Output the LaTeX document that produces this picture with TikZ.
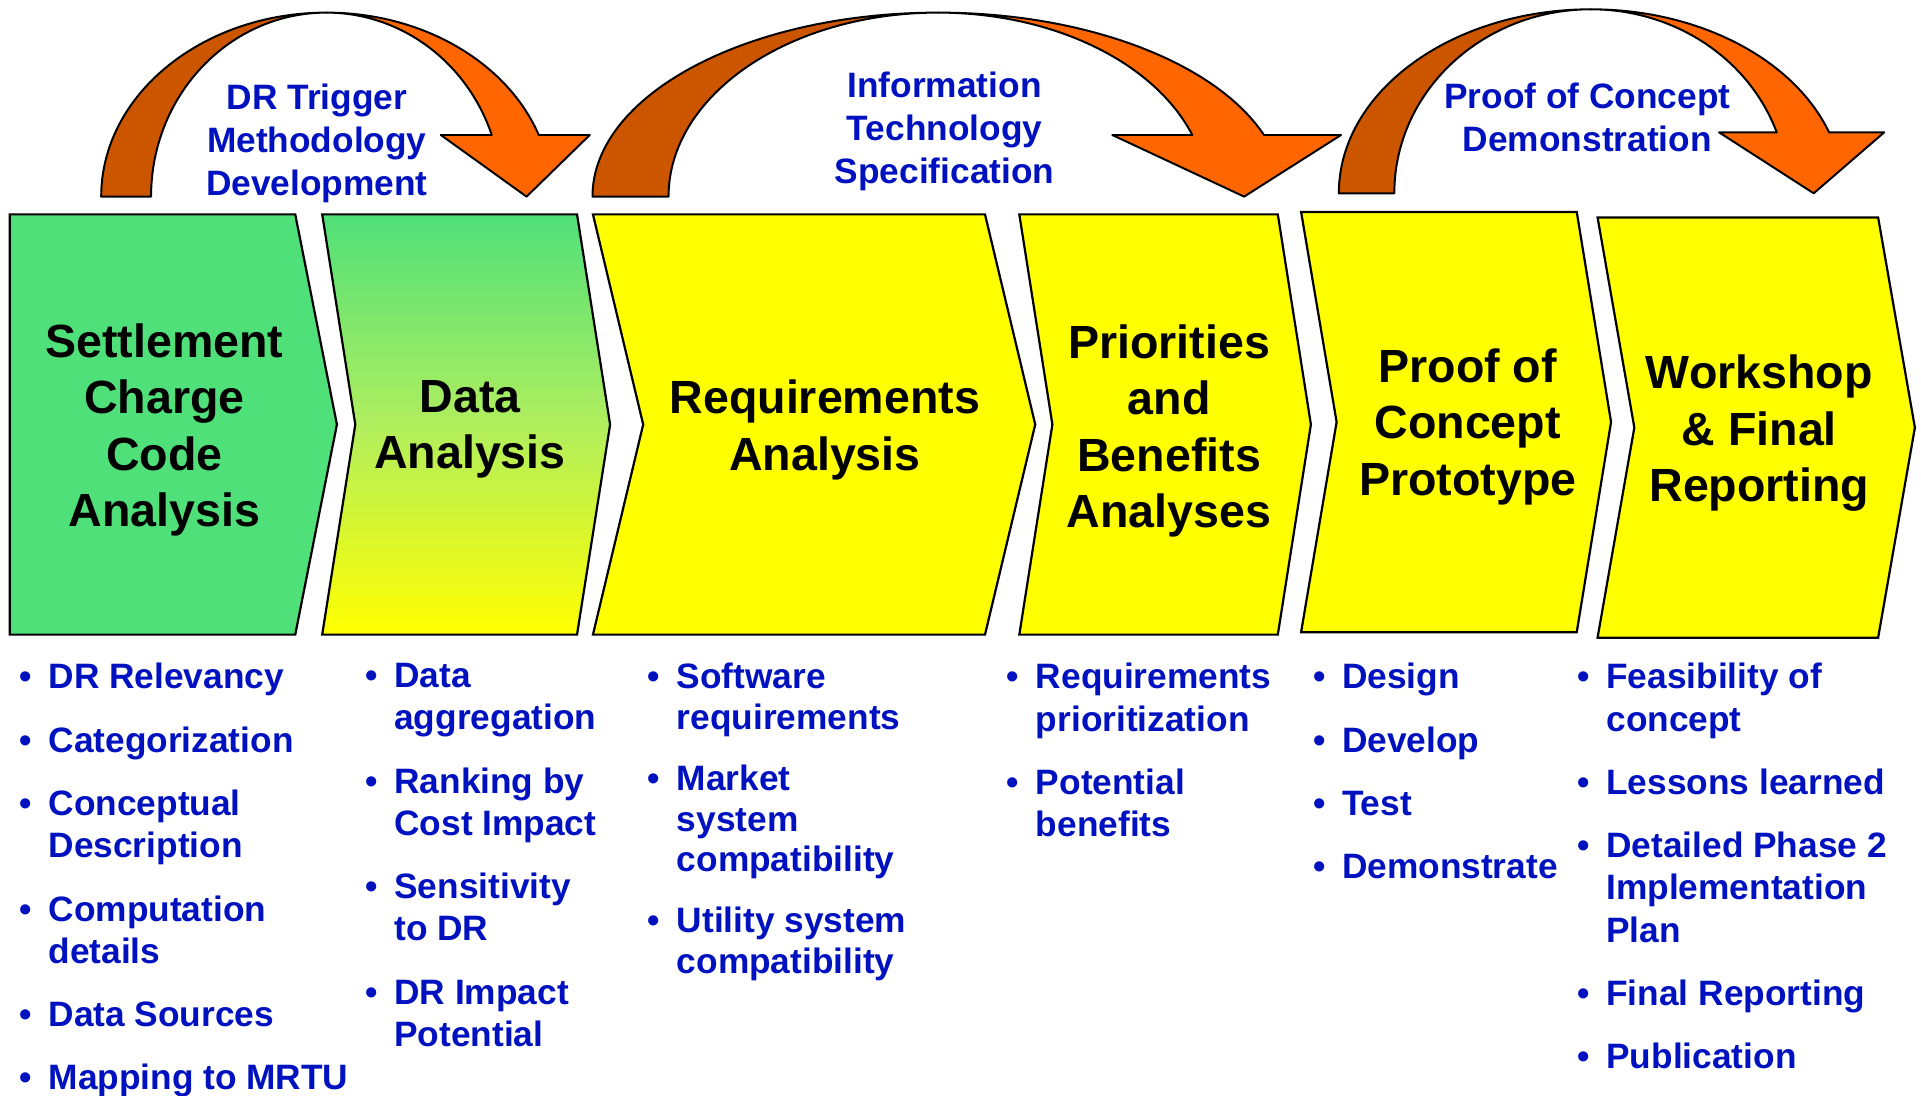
\documentclass[tikz,border=0pt]{standalone}
\usepackage{fontspec}
\setmainfont{Liberation Sans}
\definecolor{rgreen}{RGB}{80,224,122}
\definecolor{ryellow}{RGB}{255,255,0}
\definecolor{rblue}{RGB}{0,18,192}
\definecolor{odark}{RGB}{204,85,0}
\definecolor{olight}{RGB}{255,102,0}
\newcommand{\mybul}{\llap{\textbullet\hspace{6.8pt}}}
\begin{document}
\begin{tikzpicture}[x=0.5pt,y=0.5pt,
  stage/.style={draw=black, line width=0.9pt, line join=miter},
  bendarrow/.style={draw=black, line width=0.8pt, line join=round},
  head/.style={anchor=north, align=center, inner sep=0pt, font=\fontsize{19pt}{23.1pt}\selectfont\bfseries},
  arrlabel/.style={anchor=north, align=center, inner sep=0pt, text=rblue, font=\fontsize{14.4pt}{17.4pt}\selectfont\bfseries},
  blist/.style={anchor=north west, align=left, inner sep=0pt, text=rblue, font=\fontsize{14.4pt}{17.2pt}\selectfont\bfseries},
  blistb/.style={blist, font=\fontsize{14.4pt}{16.5pt}\selectfont\bfseries}
]
\useasboundingbox (0,0) rectangle (1568,894);
\clip (0,0) rectangle (1568,894);
\fill[white] (0,0) rectangle (1568,894);

% ---------- chevrons ----------
\path[stage, fill=rgreen] (8,719) -- (241,719) -- (275,547.5) -- (241,376) -- (8,376) -- cycle;
\path[stage, top color=rgreen, bottom color=ryellow, middle color={rgb,255:red,176;green,238;blue,94}] (263,719) -- (471,719) -- (498,547.5) -- (471,376) -- (263,376) -- (290,547.5) -- cycle;
\path[stage, fill=ryellow] (484,719) -- (804,719) -- (845,547.5) -- (804,376) -- (484,376) -- (525,547.5) -- cycle;
\path[stage, fill=ryellow] (832,719) -- (1043,719) -- (1070,547.5) -- (1043,376) -- (832,376) -- (859,547.5) -- cycle;
\path[stage, fill=ryellow] (1062,721) -- (1287,721) -- (1315,549.5) -- (1287,378) -- (1062,378) -- (1091,549.5) -- cycle;
\path[stage, fill=ryellow] (1304,716.5) -- (1533,716.5) -- (1563,545) -- (1533,373.5) -- (1304,373.5) -- (1334,545) -- cycle;

% ---------- curved arrows ----------
% arrow 1
\path[bendarrow, fill=odark] (82.6,733.5) arc[start angle=180, end angle=90, x radius=183.9, y radius=150.2]
  arc[start angle=90, end angle=180, x radius=143.2, y radius=150.2] -- cycle;
\path[bendarrow, fill=olight] (266.5,883.7) arc[start angle=90, end angle=19.57, x radius=183.9, y radius=150.2]
  -- (481.4,783.8) -- (429.8,733.5) -- (359.8,783.8) -- (401.4,783.8)
  arc[start angle=19.57, end angle=90, x radius=143.2, y radius=150.2] -- cycle;
% arrow 2
\path[bendarrow, fill=odark] (483.6,733.5) arc[start angle=180, end angle=90, x radius=282.2, y radius=150.2]
  arc[start angle=90, end angle=180, x radius=220.1, y radius=150.2] -- cycle;
\path[bendarrow, fill=olight] (765.8,883.7) arc[start angle=90, end angle=19.57, x radius=282.2, y radius=150.2]
  -- (1094.6,783.8) -- (1015.5,733.5) -- (907.9,783.8) -- (973.2,783.8)
  arc[start angle=19.57, end angle=90, x radius=220.1, y radius=150.2] -- cycle;
% arrow 3
\path[bendarrow, fill=odark] (1092.8,736.2) arc[start angle=180, end angle=90, x radius=205.9, y radius=150.2]
  arc[start angle=90, end angle=180, x radius=160.6, y radius=150.2] -- cycle;
\path[bendarrow, fill=olight] (1298.7,886.4) arc[start angle=90, end angle=19.37, x radius=205.9, y radius=150.2]
  -- (1538,786) -- (1480.4,736.2) -- (1403.1,786) -- (1450.2,786)
  arc[start angle=19.37, end angle=90, x radius=160.6, y radius=150.2] -- cycle;

% ---------- arrow labels ----------
\node[arrlabel] (lab1) at (258.6,825.5) {DR Trigger\\Methodology\\Development};
\node[arrlabel] (lab2) at (771,835.3) {Information\\Technology\\Specification};
\node[arrlabel] (lab3) at (1295.6,826.3) {Proof of Concept\\Demonstration};

% ---------- stage titles ----------
\node[head] (h1) at (134.1,630.4) {Settlement\\Charge\\Code\\Analysis};
\node[head] (h2) at (383.6,584.2) {Data\\Analysis};
\node[head] (h3) at (673.3,584.2) {Requirements\\Analysis};
\node[head] (h4) at (954.3,629.6) {Priorities\\and\\Benefits\\Analyses};
\node[head] (h5) at (1198,610) {Proof of\\Concept\\Prototype};
\node[head] (h6) at (1436,604.6) {Workshop\\\& Final\\Reporting};

% ---------- bullet lists ----------
\node[blist] (l1) at (39.3,352.9) {\mybul DR Relevancy\\[8.65pt]\mybul Categorization\\[8.65pt]\mybul Conceptual\\Description\\[8.65pt]\mybul Computation\\details\\[8.65pt]\mybul Data Sources\\[8.65pt]\mybul Mapping to MRTU};
\node[blist] (l2) at (321.5,352.9) {\mybul Data\\aggregation\\[8.65pt]\mybul Ranking by\\Cost Impact\\[8.65pt]\mybul Sensitivity\\to DR\\[8.65pt]\mybul DR Impact\\Potential};
\node[blistb] (l3) at (552.1,352.9) {\mybul Software\\requirements\\[8.5pt]\mybul Market\\system\\compatibility\\[8.5pt]\mybul Utility system\\compatibility};
\node[blist] (l4) at (845.2,352.9) {\mybul Requirements\\prioritization\\[8.65pt]\mybul Potential\\benefits};
\node[blist] (l5) at (1095,352.9) {\mybul Design\\[8.65pt]\mybul Develop\\[8.65pt]\mybul Test\\[8.65pt]\mybul Demonstrate};
\node[blist] (l6) at (1310.8,352.9) {\mybul Feasibility of\\concept\\[8.65pt]\mybul Lessons learned\\[8.65pt]\mybul Detailed Phase 2\\Implementation\\Plan\\[8.65pt]\mybul Final Reporting\\[8.65pt]\mybul Publication};
\end{tikzpicture}
\end{document}
